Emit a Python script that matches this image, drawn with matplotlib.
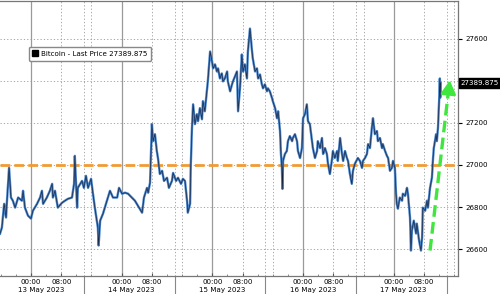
import matplotlib
matplotlib.use("Agg")
import matplotlib.pyplot as plt
from matplotlib.lines import Line2D
from matplotlib.ticker import MultipleLocator

plt.rcParams['font.family'] = ['DejaVu Sans']

# hours since 13 May 2023 00:00, Bitcoin last price
hours = [-8.2, -7.7, -7.1, -6.6, -6.35, -5.8, -5.3, -4.8, -4.2, -3.4, -2.4, -2.1, -1.6, -0.8,
         0.0, 0.5, 1.6, 2.4, 2.9, 3.2, 4.2, 5.0, 5.6, 5.8, 6.35, 7.1, 8.2, 9.0, 9.8, 10.85,
         11.4, 11.6, 12.2, 12.4, 13.5, 14.0, 14.55, 15.1, 15.9, 16.4, 16.9, 17.7, 17.9, 18.3,
         19.05, 20.1, 20.9, 21.7, 22.8, 23.3, 24.1, 24.9, 25.7, 26.7, 27.5, 28.3, 29.4, 29.9,
         30.7, 31.0, 31.5, 32.0, 32.3, 32.8, 33.3, 33.6, 34.1, 34.7, 35.2, 36.0, 36.5, 37.3,
         37.6, 38.4, 38.9, 39.7, 40.2, 40.75, 41.3, 41.5, 42.1, 42.3, 42.6, 42.9, 43.4, 43.9,
         44.2, 44.7, 45.25, 45.5, 46.0, 46.6, 46.8, 47.4, 47.9, 48.2, 48.7, 49.2, 49.5, 50.0,
         50.5, 50.8, 51.3, 51.9, 52.1, 52.7, 53.2, 53.45, 54.5, 54.8, 55.3, 55.8, 56.1, 56.6,
         57.15, 57.4, 57.95, 58.5, 58.7, 59.3, 59.8, 60.1, 60.6, 61.1, 61.4, 61.9, 62.45, 62.7,
         63.2, 63.8, 64.0, 64.6, 65.1, 65.4, 65.9, 66.15, 66.4, 66.55, 66.7, 67.2, 67.7, 68.0,
         68.5, 69.1, 69.3, 69.85, 70.4, 70.65, 71.2, 71.7, 72.0, 72.5, 73.0, 73.3, 73.8, 74.35,
         74.6, 75.15, 75.7, 75.9, 76.5, 77.0, 77.3, 77.8, 78.3, 78.6, 79.1, 79.6, 79.9, 80.4,
         81.0, 81.2, 81.8, 82.3, 82.6, 83.1, 83.6, 83.9, 84.4, 84.9, 85.2, 85.7, 86.5, 87.05,
         87.6, 87.85, 88.4, 88.9, 89.2, 89.7, 90.2, 90.5, 91.0, 91.55, 91.8, 92.35, 92.9, 93.1,
         93.7, 94.2, 94.5, 95.0, 95.5, 95.8, 96.3, 96.6, 96.8, 97.1, 97.6, 98.2, 98.4, 99.0,
         99.5, 99.75, 100.3, 100.55, 100.8, 101.3, 101.9, 102.1, 102.7, 103.2, 103.5, 103.7,
         104.3, 104.8, 105.05, 105.6, 106.1, 106.4, 106.6, 107.2, 107.4, 107.7, 108.0, 108.2,
         108.3, 108.4]
price = [26673, 26702, 26815, 26750, 26830, 26986, 26845, 26830, 26797, 26845, 26830, 26877, 26797, 26759,
         26745, 26782, 26815, 26845, 26877, 26815, 26845, 26877, 26910, 26845, 26877, 26797, 26820, 26830, 26839, 26845,
         26910, 27043, 26797, 26891, 26924, 26891, 26948, 26891, 26934, 26863, 26797, 26702, 26617, 26735,
         26768, 26830, 26877, 26845, 26845, 26891, 26863, 26868, 26863, 26845, 26830, 26806, 26773, 26845,
         26891, 26868, 26915, 27194, 27113, 27146, 27066, 27033, 26957, 26972, 26924, 26939, 26891, 26924,
         26962, 26924, 26939, 26910, 26934, 26924, 26830, 26773, 26815, 27005, 27175, 27288, 27194, 27241,
         27208, 27270, 27217, 27303, 27255, 27364, 27397, 27539, 27492, 27459, 27478, 27444, 27459, 27411,
         27435, 27397, 27411, 27444, 27397, 27350, 27383, 27397, 27444, 27255, 27364, 27525, 27444, 27478,
         27411, 27539, 27648, 27539, 27506, 27444, 27459, 27411, 27430, 27383, 27364, 27383, 27350, 27364,
         27350, 27317, 27303, 27270, 27222, 27255, 27161, 27052, 26986, 26886, 27019, 27052, 27066, 27113,
         27137, 27113, 27128, 27146, 27113, 27066, 27033, 27080, 27222, 27241, 27288, 27208, 27194, 27113,
         27080, 27033, 27066, 27113, 27080, 27128, 27052, 27080, 27052, 27005, 26957, 27019, 27066, 27033,
         27066, 27019, 27128, 27052, 27019, 27066, 27033, 27019, 26957, 26910, 26972, 27005, 27033, 27019,
         26986, 27019, 27033, 27052, 27099, 27080, 27175, 27222, 27146, 27161, 27113, 27128, 27080, 27099,
         27066, 27043, 27033, 26972, 26986, 27019, 26986, 26863, 26815, 26792, 26845, 26830, 26863, 26853,
         26891, 26863, 26750, 26593, 26688, 26735, 26674, 26721, 26641, 26593, 26655, 26797,
         26782, 26830, 26797, 26891, 26939, 27033, 27080, 27146, 27113, 27175, 27303, 27411,
         27320, 27389.875]

last_price = 27389.875
level = 27000
arrow_start = (105.6, 26593)
arrow_end = (110.9, 27415)

day_starts = [0, 24, 48, 72, 96]
day_labels = ['13 May 2023', '14 May 2023', '15 May 2023', '16 May 2023', '17 May 2023']
yticks = [26600, 26800, 27000, 27200, 27600]
ymin, ymax = 26472, 27780
fs = 5.1

fig = plt.figure(figsize=(5, 2.94), dpi=100)
ax = fig.add_axes([0.0, 0.0612, 0.916, 0.936])

# grid
dots = (0, (1.5, 2.5))
for y in [26600, 26800, 27000, 27200, 27400, 27600]:
    ax.axhline(y, color='#999999', lw=0.6, ls=dots, zorder=0)
for d in day_starts:
    ax.axvline(d, color='#9a9a9a', lw=0.9, zorder=0)
    for off in (8, 14, 16):
        ax.axvline(d + off, color='#999999', lw=0.6, ls=dots, zorder=0)
    ax.plot([d + 14, d + 14], [0, -0.075], color='#888888', lw=0.8,
            transform=ax.get_xaxis_transform(), clip_on=False)

ax.axhline(level, color='#f29a33', lw=2.0, ls=(0, (3.5, 1.5)), zorder=3)

ax.plot(hours, price, color='#4682c8', lw=1.7, zorder=4)
ax.plot(hours, price, color='#16203a', lw=0.45, zorder=5)

# green arrow
ax.plot([arrow_start[0], arrow_end[0] - 0.4], [arrow_start[1], arrow_end[1] - 60],
        color='#3ee63e', lw=2.4, ls=(0, (3.5, 1.6)), zorder=6)
ax.annotate('', xy=arrow_end, xytext=(arrow_end[0] - 0.4, arrow_end[1] - 70),
            arrowprops=dict(arrowstyle='-|>,head_length=0.8,head_width=0.45',
                            color='#3ee63e', lw=2), zorder=6)

ax.set_xlim(-8.2, 113)
ax.set_ylim(ymin, ymax)

ax.yaxis.tick_right()
ax.set_yticks(yticks)
ax.set_yticklabels([str(v) for v in yticks])
ax.tick_params(axis='y', length=3, width=0.8, pad=2, labelsize=fs, colors='black')
xt = []
for d in day_starts:
    xt += [d, d + 8]
ax.set_xticks(xt)
ax.set_xticklabels(['00:00', '08:00'] * len(day_starts))
ax.xaxis.set_minor_locator(MultipleLocator(4))
ax.tick_params(axis='x', which='major', direction='in', length=2.5, width=0.8,
               color='#555555', pad=1.8, labelsize=fs)
ax.tick_params(axis='x', which='minor', direction='in', length=1.5, width=0.6, color='#777777')
for d, lab in zip(day_starts, day_labels):
    ax.text(d + 2.6, -0.05, lab, transform=ax.get_xaxis_transform(),
            ha='center', va='center', fontsize=fs)

for s in ['top', 'bottom', 'right']:
    ax.spines[s].set_color('#777777')
    ax.spines[s].set_linewidth(0.9)
ax.spines['left'].set_visible(False)

ax.text(1.006, (last_price - ymin) / (ymax - ymin), '27389.875', transform=ax.transAxes,
        ha='left', va='center', fontsize=fs, color='white',
        bbox=dict(boxstyle='square,pad=0.25', fc='black', ec='black'))

handle = Line2D([], [], marker='s', color='black', ls='none', markersize=4.5)
leg = ax.legend([handle], ['Bitcoin - Last Price 27389.875'], loc='upper left',
                bbox_to_anchor=(0.055, 0.845), fontsize=fs, frameon=True, fancybox=True,
                handlelength=0.8, handletextpad=0.4, borderpad=0.55, framealpha=1)
leg.get_frame().set_edgecolor('#888888')
leg.get_frame().set_linewidth(1.0)

fig.savefig('out.png', dpi=100)
